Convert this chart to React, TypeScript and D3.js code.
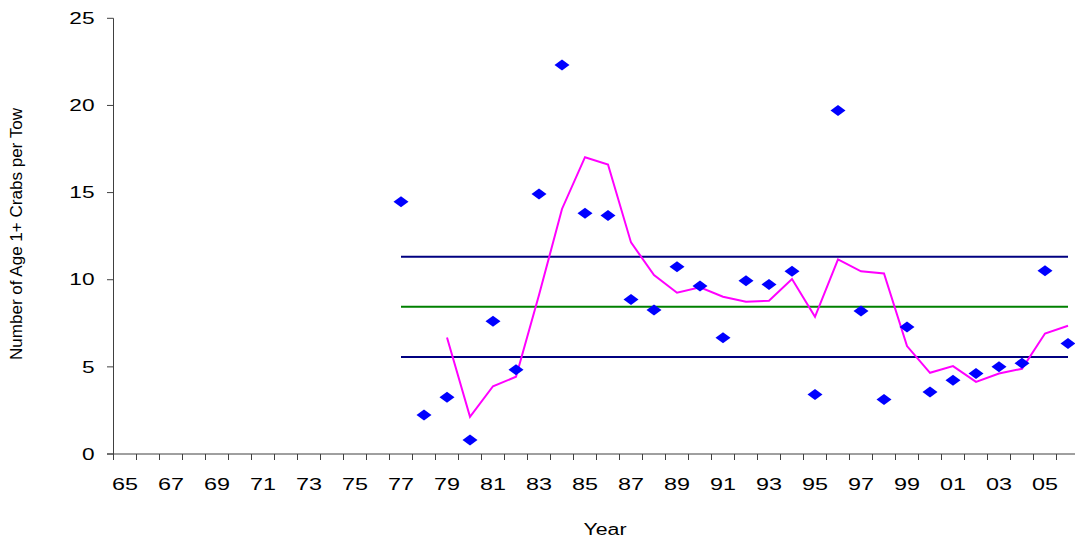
import React from "react";
import * as d3 from "d3";

// ---- data ----
const categories: string[] = [
  "65","66","67","68","69","70","71","72","73","74","75","76","77","78","79",
  "80","81","82","83","84","85","86","87","88","89","90","91","92","93","94",
  "95","96","97","98","99","00","01","02","03","04","05","06",
];
const tickLabelCats: string[] = [
  "65","67","69","71","73","75","77","79","81","83","85","87","89","91","93",
  "95","97","99","01","03","05",
];
const obsYears: string[] = [
  "77","78","79","80","81","82","83","84","85","86","87","88","89","90","91",
  "92","93","94","95","96","97","98","99","00","01","02","03","04","05","06",
];
const obsValues: number[] = [
  14.48, 2.24, 3.26, 0.8, 7.62, 4.83, 14.92, 22.32, 13.81, 13.68, 8.87, 8.26,
  10.75, 9.64, 6.67, 9.94, 9.73, 10.48, 3.41, 19.71, 8.2, 3.12, 7.28, 3.56,
  4.23, 4.62, 5.0, 5.21, 10.52, 6.34,
];
const avgYears: string[] = [
  "79","80","81","82","83","84","85","86","87","88","89","90","91","92","93",
  "94","95","96","97","98","99","00","01","02","03","04","05","06",
];
const avgValues: number[] = [
  6.69, 2.13, 3.89, 4.43, 9.12, 14.06, 17.03, 16.61, 12.14, 10.27, 9.25, 9.56,
  9.02, 8.74, 8.79, 10.04, 7.87, 11.17, 10.48, 10.36, 6.19, 4.66, 5.04, 4.14,
  4.62, 4.89, 6.91, 7.36,
];
const upperValue = 11.32;
const meanValue = 8.45;
const lowerValue = 5.57;
const yTicks: number[] = [0, 5, 10, 15, 20, 25];
const yTitle = "Number of Age 1+ Crabs per Tow";
const xTitle = "Year";

export default function App() {
  const W = 1075;
  const H = 540;
  const x0 = 113.5;
  const bw = 23;
  const x = d3
    .scaleBand<string>()
    .domain(categories)
    .range([x0, x0 + bw * categories.length])
    .padding(0);
  const cx = (c: string) => (x(c) as number) + x.bandwidth() / 2;
  const y = d3.scaleLinear().domain([0, 25]).range([454, 18.3]);

  const avgLine = d3
    .line<number>()
    .x((_, i) => cx(avgYears[i]))
    .y((d) => y(d))(avgValues) as string;

  const xStart = cx(obsYears[0]);
  const xEnd = cx(obsYears[obsYears.length - 1]);
  const levels = [
    { v: upperValue, c: "#000080" },
    { v: meanValue, c: "#008000" },
    { v: lowerValue, c: "#000080" },
  ];
  const axisColor = "#404040";
  const font = "'Liberation Sans', Arial, sans-serif";
  const boundaries = d3.range(categories.length + 1).map((i) => x0 + i * bw);

  return (
    <svg
      width={W}
      height={H}
      style={{ position: "absolute", left: 0, top: 0, background: "#fff" }}
      fontFamily={font}
    >
      <rect x={0} y={0} width={W} height={H} fill="#fff" />
      {levels.map((l, i) => (
        <line
          key={i}
          x1={xStart}
          x2={xEnd}
          y1={y(l.v)}
          y2={y(l.v)}
          stroke={l.c}
          strokeWidth={2}
        />
      ))}
      <path d={avgLine} fill="none" stroke="#FF00FF" strokeWidth={2} />
      {obsValues.map((v, i) => {
        const px = cx(obsYears[i]);
        const py = y(v);
        return (
          <path
            key={i}
            d={`M${px - 7.5},${py} L${px},${py - 5.5} L${px + 7.5},${py} L${px},${py + 5.5} Z`}
            fill="#0000FF"
          />
        );
      })}
      <line x1={113.5} x2={113.5} y1={y(25)} y2={y(0)} stroke={axisColor} />
      {yTicks.map((t) => (
        <g key={t}>
          <line x1={107} x2={113.5} y1={y(t)} y2={y(t)} stroke={axisColor} />
          <text
            x={94.5}
            y={y(t)}
            dy="0.36em"
            textAnchor="end"
            fontSize={16}
            textLength={String(t).length * 12.6}
            lengthAdjust="spacingAndGlyphs"
            fill="#000"
          >
            {t}
          </text>
        </g>
      ))}
      <line x1={107} x2={W + 10} y1={y(0)} y2={y(0)} stroke={axisColor} />
      {boundaries.map((b, i) => (
        <line key={i} x1={b} x2={b} y1={y(0)} y2={y(0) + 6} stroke={axisColor} />
      ))}
      {tickLabelCats.map((c) => (
        <text
          key={c}
          x={cx(c)}
          y={489.5}
          textAnchor="middle"
          fontSize={17}
          textLength={26}
          lengthAdjust="spacingAndGlyphs"
          fill="#000"
        >
          {c}
        </text>
      ))}
      <text
        x={605}
        y={535}
        textAnchor="middle"
        fontSize={16}
        textLength={43}
        lengthAdjust="spacingAndGlyphs"
        fill="#000"
      >
        {xTitle}
      </text>
      <text
        transform={`translate(22,234) rotate(-90)`}
        textAnchor="middle"
        fontSize={16}
        textLength={252}
        lengthAdjust="spacingAndGlyphs"
        fill="#000"
      >
        {yTitle}
      </text>
    </svg>
  );
}
